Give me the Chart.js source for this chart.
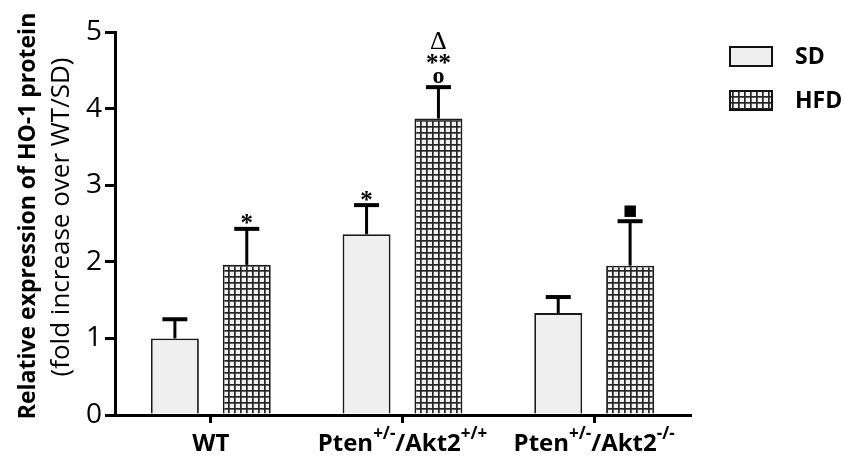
<!DOCTYPE html>
<html>
<head>
<meta charset="utf-8">
<script src="https://cdn.jsdelivr.net/npm/chart.js@4"></script>
<style>
  html, body { margin: 0; padding: 0; background: #fff; }
  #wrap { width: 845px; height: 461px; }
</style>
</head>
<body>
<div id="wrap"><canvas id="c" width="845" height="461"></canvas></div>
<script>
// HO-1 protein expression, fold over WT/SD
const categories = ['WT', 'Pten+/-/Akt2+/+', 'Pten+/-/Akt2-/-'];
const seriesNames = ['SD', 'HFD'];
const sdMean = [1.00, 2.36, 1.33];
const sdErr = [0.25, 0.38, 0.21];
const hfdMean = [1.96, 3.87, 1.95];
const hfdErr = [0.47, 0.41, 0.58];
const yTicks = [0, 1, 2, 3, 4, 5];
// significance marks above each bar, listed bottom to top
const sdMarks = [[], ['*'], []];
const hfdMarks = [['*'], ['o', '**', '\u0394'], ['\u25A0']];

const SANS = '"Open Sans", "Noto Sans", sans-serif';
const SERIF = '"Liberation Serif", "DejaVu Serif", serif';

// grid-paper fill for the HFD bars
function makeGridPattern() {
  const p = document.createElement('canvas');
  p.width = 6; p.height = 6;
  const g = p.getContext('2d');
  g.fillStyle = '#f2f2f2';
  g.fillRect(0, 0, 6, 6);
  g.fillStyle = '#262626';
  g.fillRect(0, 0, 6, 1.7);
  g.fillRect(0, 0, 1.7, 6);
  return document.getElementById('c').getContext('2d').createPattern(p, 'repeat');
}
const gridFill = makeGridPattern();
const sdFill = '#efefef';

const errs = [sdErr, hfdErr];
const marks = [sdMarks, hfdMarks];

const overlay = {
  id: 'overlay',
  afterDatasetsDraw(chart) {
    const ctx = chart.ctx;
    const y = chart.scales.y;
    ctx.save();
    ctx.strokeStyle = '#000';
    ctx.fillStyle = '#000';
    chart.data.datasets.forEach((ds, di) => {
      const meta = chart.getDatasetMeta(di);
      meta.data.forEach((bar, i) => {
        const top = y.getPixelForValue(ds.data[i]);
        const capY = y.getPixelForValue(ds.data[i] + errs[di][i]);
        // upper error bar
        ctx.lineWidth = 3;
        ctx.beginPath();
        ctx.moveTo(bar.x, top);
        ctx.lineTo(bar.x, capY);
        ctx.stroke();
        ctx.lineWidth = 4;
        ctx.beginPath();
        ctx.moveTo(bar.x - 12.5, capY);
        ctx.lineTo(bar.x + 12.5, capY);
        ctx.stroke();
        // significance marks
        ctx.textAlign = 'center';
        ctx.textBaseline = 'middle';
        const list = marks[di][i];
        list.forEach(m => {
          if (m === '\u25A0') {
            ctx.font = '15px "DejaVu Sans", sans-serif';
            ctx.fillText(m, bar.x, capY - 10);
          } else if (m === 'o') {
            ctx.font = 'bold 24px ' + SERIF;
            ctx.fillText(m, bar.x, capY - 10);
          } else if (m === '\u0394') {
            ctx.font = '26px ' + SERIF;
            ctx.fillText(m, bar.x, capY - 45);
          } else if (list.length > 1) {
            ctx.font = 'bold 25px ' + SERIF;
            ctx.fillText(m, bar.x, capY - 23);
          } else {
            ctx.font = 'bold 25px ' + SERIF;
            ctx.fillText(m, bar.x, capY - 4);
          }
        });
      });
    });
    ctx.restore();
  },
  afterDraw(chart) {
    const ctx = chart.ctx;
    const x = chart.scales.x;
    const area = chart.chartArea;
    ctx.save();
    ctx.fillStyle = '#000';
    // category labels with superscript genotypes
    const isSup = p => /^[+\-]\/[+\-]$/.test(p);
    categories.forEach((label, i) => {
      const parts = label.split(/([+\-]\/[+\-])/).filter(s => s !== '');
      const fonts = parts.map(p => isSup(p) ? 'bold 17px ' + SANS : 'bold 24px ' + SANS);
      let total = 0;
      const widths = parts.map((p, k) => { ctx.font = fonts[k]; const w = ctx.measureText(p).width; total += w; return w; });
      let cx = x.getPixelForValue(i) - total / 2;
      const base = area.bottom + 36;
      ctx.textAlign = 'left';
      ctx.textBaseline = 'alphabetic';
      parts.forEach((p, k) => {
        ctx.font = fonts[k];
        ctx.fillText(p, cx, isSup(p) ? base - 12 : base);
        cx += widths[k];
      });
    });
    // axis title, two lines
    ctx.save();
    ctx.translate(28, 216);
    ctx.rotate(-Math.PI / 2);
    ctx.textAlign = 'center';
    ctx.textBaseline = 'middle';
    ctx.font = 'bold 23px ' + SANS;
    ctx.fillText('Relative expression of HO-1 protein', 0, 0);
    ctx.restore();
    ctx.save();
    ctx.translate(62, 217);
    ctx.rotate(-Math.PI / 2);
    ctx.textAlign = 'center';
    ctx.textBaseline = 'middle';
    ctx.font = '26px ' + SANS;
    ctx.fillText('(fold increase over WT/SD)', 0, 0);
    ctx.restore();
    // legend
    chart.data.datasets.forEach((ds, di) => {
      const by = 47 + di * 44;
      ctx.fillStyle = ds.backgroundColor;
      ctx.fillRect(730, by, 42, 19);
      ctx.lineWidth = 2;
      ctx.strokeStyle = '#111';
      ctx.strokeRect(730, by, 42, 19);
      ctx.fillStyle = '#000';
      ctx.font = 'bold 23px ' + SANS;
      ctx.textAlign = 'left';
      ctx.textBaseline = 'middle';
      ctx.fillText(ds.label, 795, by + 10);
    });
    ctx.restore();
  }
};

new Chart(document.getElementById('c'), {
  type: 'bar',
  data: {
    labels: categories,
    datasets: [
      { label: seriesNames[0], data: sdMean, backgroundColor: sdFill, borderColor: '#1a1a1a', borderWidth: 1.8 },
      { label: seriesNames[1], data: hfdMean, backgroundColor: gridFill, borderColor: '#1a1a1a', borderWidth: 1.8 }
    ]
  },
  options: {
    responsive: false,
    animation: false,
    devicePixelRatio: 1,
    categoryPercentage: 0.75,
    barPercentage: 0.667,
    layout: { padding: { top: 32, right: 155, left: 0, bottom: 0 } },
    plugins: { legend: { display: false }, tooltip: { enabled: false } },
    scales: {
      x: {
        grid: { display: true, drawOnChartArea: false, drawTicks: true, tickLength: 8, lineWidth: 3, color: '#000', offset: false },
        border: { display: true, width: 3, color: '#000' },
        ticks: { display: false },
        afterFit(s) { s.height = 46; }
      },
      y: {
        min: 0, max: 5,
        afterBuildTicks(s) { s.ticks = yTicks.map(v => ({ value: v })); },
        grid: { display: true, drawOnChartArea: false, drawTicks: true, tickLength: 10, lineWidth: 3, color: '#000' },
        border: { display: true, width: 3, color: '#000' },
        ticks: { color: '#000', font: { family: SANS, size: 28 }, padding: 3 },
        afterFit(s) { s.width = 115; }
      }
    }
  },
  plugins: [overlay]
});
</script>
</body>
</html>
